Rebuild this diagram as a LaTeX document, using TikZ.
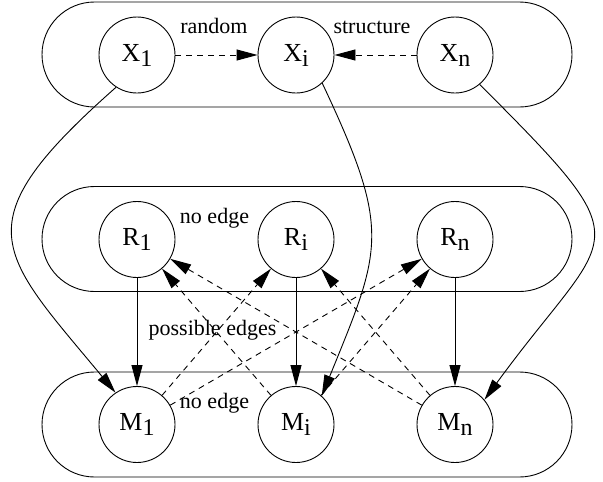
\documentclass[tikz,border=0pt]{standalone}
\usepackage{fontspec}
\setmainfont{Liberation Serif}
\usetikzlibrary{arrows.meta}
\newcommand{\nodeidx}[1]{\raisebox{-5pt}{\fontsize{24}{24}\selectfont #1}}

\begin{document}
\begin{tikzpicture}[x=1pt, y=-1pt, line width=0.9pt,
	every node/.style={font=\fontsize{22}{26}\selectfont},
	var/.style={draw, circle, minimum size=76pt, inner sep=0pt, font=\fontsize{26}{30}\selectfont},
	link/.style={-{Triangle[length=21pt,width=11pt]}},
	maybe/.style={link, dash pattern=on 6pt off 5pt}]
	% the three plates
	\foreach \top in {2, 186.5, 372} {
		\draw[rounded corners=52.5pt] (42,\top) rectangle (572,\top+105);
	}
	% variables
	\foreach \row/\y in {X/55, R/239.5, M/424.5} {
		\foreach \col/\x in {1/137, i/296, n/455} {
			\node[var] (\row\col) at (\x,\y) {\row\nodeidx{\col}};
		}
	}
	\node[anchor=base] (random) at (214,33) {random};
	\node[anchor=base] (structure) at (372,33) {structure};
	\node[anchor=base] (noedgeR) at (214.5,223) {no edge};
	\node[anchor=base] (possible) at (212.5,335) {possible edges};
	\node[anchor=base] (noedgeM) at (214.5,408) {no edge};
	% edges
	\draw[maybe] (X1) -- (Xi);
	\draw[maybe] (Xn) -- (Xi);
	\foreach \c in {1,i,n} \draw[link] (R\c) -- (M\c);
	\foreach \a/\b in {1/i, 1/n, i/1, i/n, n/1, n/i} \draw[maybe] (M\a) -- (R\b);
	\draw[link] (X1.237) .. controls (-40,225) and (-2,251) .. (M1.124);
	\draw[link] (Xn.310) .. controls (648,253) and (612,225) .. (Mn.40);
	\draw[link] (Xi.313) .. controls (392,231) and (382,248) .. (Mi.48);
	\pgfresetboundingbox
	\path[use as bounding box] (0,0) rectangle (603,482);
\end{tikzpicture}
\end{document}
